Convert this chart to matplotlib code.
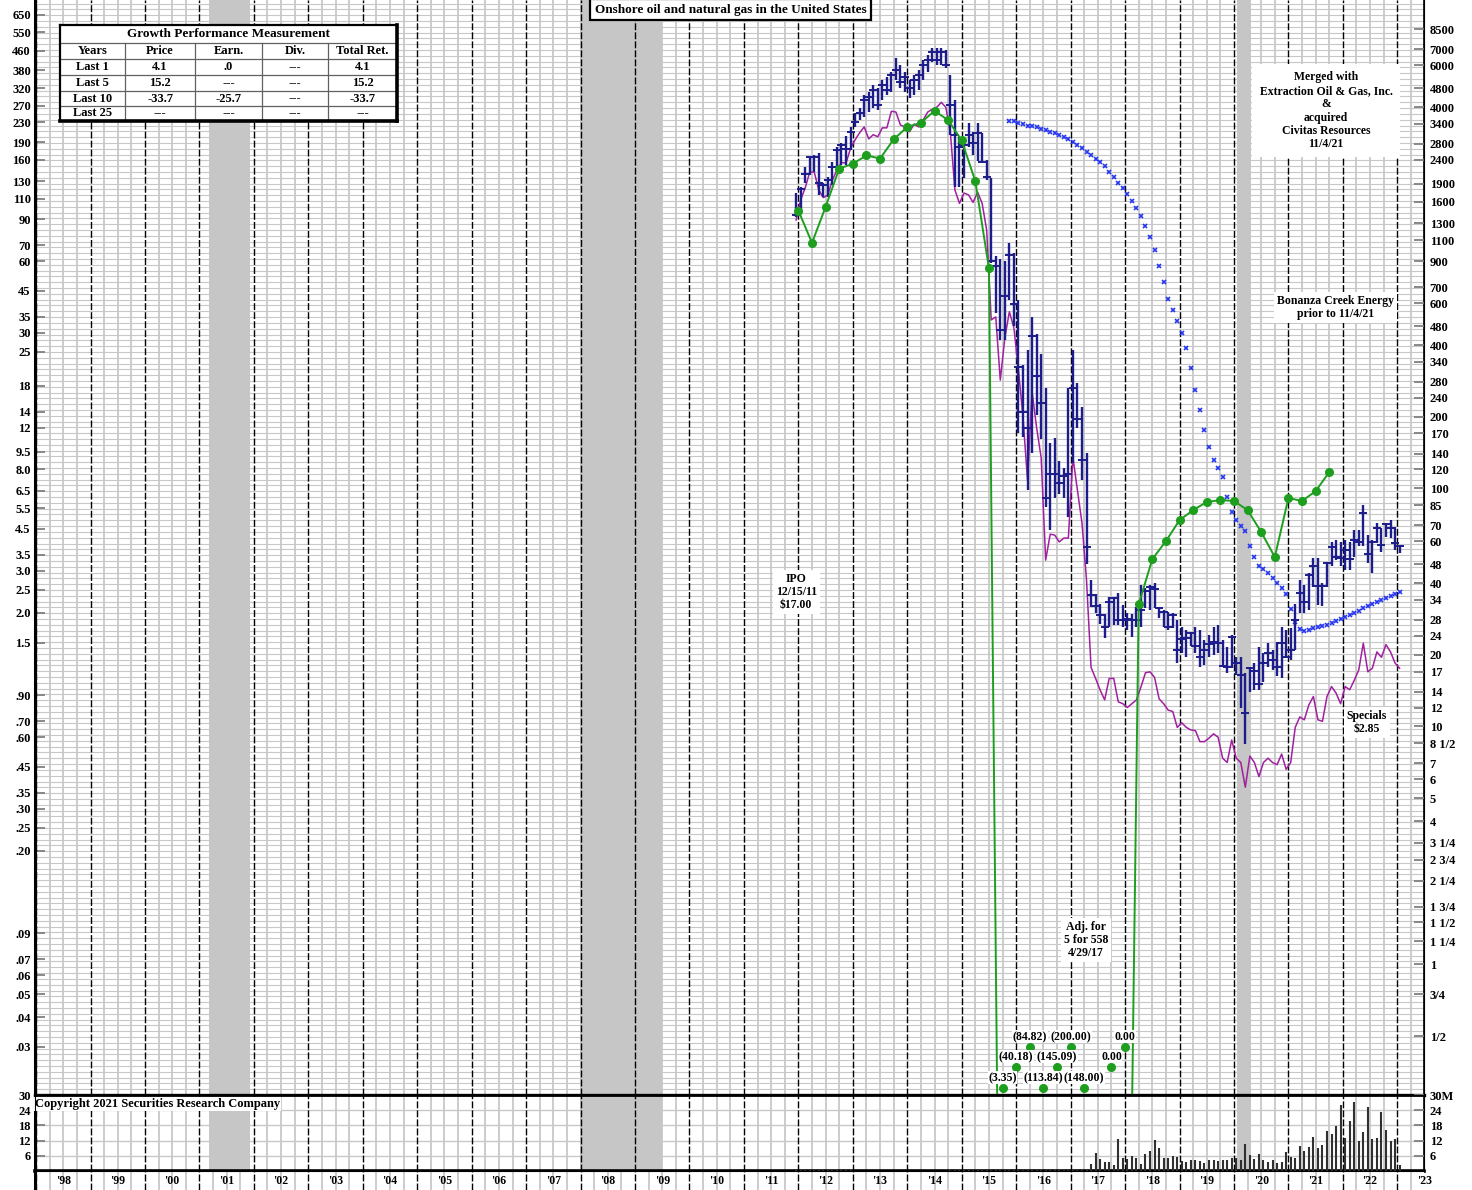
import numpy as np
import matplotlib
matplotlib.use("Agg")
import matplotlib.pyplot as plt
from matplotlib.ticker import NullLocator
from matplotlib.transforms import blended_transform_factory as blend

plt.rcParams['font.family'] = ['Liberation Serif', 'DejaVu Serif']
plt.rcParams['font.weight'] = 'bold'

# ------------------------------------------------------------------ data
first_month = 2011 + 11 / 12          # Dec 2011 (monthly series start)

price_high = [116,
    123, 149, 165, 167, 171, 128, 136, 156, 181, 189, 201, 219,
    252, 265, 300, 308, 330, 320, 347, 355, 374, 428, 400, 374,
    347, 364, 382, 420, 441, 470, 470, 470, 463, 364, 286, 200,
    189, 229, 210, 229, 208, 160, 134, 63, 61.5, 60, 71.8, 65,
    41.3, 22, 25.4, 35, 29.6, 24.4, 17.6, 10.3, 10.8, 8.7, 8.1, 17.6,
    25.4, 18.5, 14.6, 9.4, 2.74, 2.4, 2.17, 1.97, 2.33, 2.33, 2.42, 2.15,
    2.0, 1.97, 2.11, 2.62, 2.55, 2.62, 2.67, 2.11, 2.06, 2.02, 2.0, 1.87,
    1.74, 1.69, 1.66, 1.75, 1.69, 1.54, 1.61, 1.74, 1.78, 1.54, 1.44, 1.61,
    1.30, 1.30, 1.12, 1.18, 1.23, 1.44, 1.35, 1.49, 1.40, 1.51, 1.74, 1.69,
    1.72, 2.18, 2.75, 2.62, 2.95, 3.4, 3.4, 2.67, 3.27, 3.97, 4.04, 3.97,
    4.04, 3.97, 4.45, 4.45, 5.67, 4.24, 4.04, 4.77, 4.54, 4.77, 4.9, 4.6,
    3.85]
price_low = [92,
    98.5, 128, 138, 142, 114, 112, 112, 125, 149, 152, 152, 176,
    219, 235, 242, 255, 265, 260, 286, 300, 308, 347, 320, 308,
    291, 300, 315, 347, 374, 412, 400, 400, 390, 204, 123, 123,
    134, 181, 168, 158, 158, 132, 59, 36.4, 28, 28, 41.3, 32,
    11.4, 11, 6.56, 9.4, 13.6, 10.7, 5.57, 4.45, 6.1, 6.3, 6.1, 5.05,
    8.5, 12.0, 7.2, 3.2, 2.11, 2.0, 1.8, 1.56, 1.74, 1.78, 1.78, 1.74,
    1.69, 1.59, 1.74, 1.74, 2.09, 2.06, 2.09, 1.91, 1.74, 1.69, 1.72, 1.23,
    1.36, 1.31, 1.45, 1.35, 1.18, 1.21, 1.30, 1.33, 1.36, 1.18, 1.12, 1.17,
    1.10, 0.80, 0.56, 0.93, 0.95, 0.95, 1.02, 1.18, 1.15, 1.08, 1.06, 1.29,
    1.27, 1.40, 2.0, 2.0, 2.06, 2.57, 2.16, 2.14, 2.57, 3.14, 3.33, 3.14,
    3.03, 3.03, 3.43, 3.8, 3.82, 3.24, 2.94, 3.93, 3.6, 4.16, 4.12, 3.67,
    3.55]
price_close = [94,
    121, 139, 164, 165, 128, 125, 132, 149, 176, 185, 178, 210,
    231, 252, 286, 294, 315, 272, 330, 315, 364, 382, 340, 355,
    320, 347, 364, 400, 420, 455, 420, 455, 400, 272, 204, 181,
    185, 204, 189, 208, 156, 136, 60, 57.5, 30.7, 43, 64, 39.8,
    21.5, 14, 12, 29.2, 19.7, 15.2, 6.1, 7.66, 7.66, 7.0, 7.5, 7.66,
    17.6, 13.0, 8.8, 3.78, 2.37, 2.13, 1.95, 1.74, 2.22, 2.3, 1.87, 1.86,
    1.89, 1.87, 1.87, 2.06, 2.47, 2.56, 2.52, 2.09, 2.02, 1.74, 1.95, 1.39,
    1.55, 1.56, 1.64, 1.45, 1.30, 1.40, 1.48, 1.51, 1.49, 1.19, 1.18, 1.58,
    1.23, 1.10, 0.76, 1.17, 1.14, 1.0, 1.23, 1.36, 1.27, 1.18, 1.49, 1.30,
    1.40, 1.87, 2.42, 2.22, 2.88, 3.15, 2.6, 2.6, 3.24, 3.78, 3.43, 3.40,
    3.67, 3.37, 4.04, 3.97, 5.25, 3.53, 3.97, 4.54, 3.85, 4.73, 4.54, 3.93,
    3.82]
rel_line = [89.4,
    108.5, 122, 142, 142, 119.5, 111, 114, 131.6, 145, 156, 155, 179,
    194, 208, 220, 196, 204, 200, 218, 218, 256, 254, 224, 220,
    210, 226, 220, 235, 254, 261, 266, 279, 266, 208, 119.5, 105,
    116, 114, 106, 117, 105, 81, 34, 35, 19, 28.6, 36.8, 31.5,
    21, 13.3, 7.22, 17, 12, 9.0, 3.33, 4.28, 4.24, 3.97, 4.12, 4.12,
    9.0, 6.56, 4.77, 2.75, 1.18, 1.06, 0.948, 0.861, 1.06, 1.06, 0.845, 0.83,
    0.80, 0.83, 0.861, 0.976, 1.12, 1.13, 1.07, 0.87, 0.83, 0.78, 0.77, 0.66,
    0.69, 0.66, 0.644, 0.64, 0.575, 0.575, 0.595, 0.62, 0.60, 0.49, 0.47, 0.584,
    0.49, 0.47, 0.37, 0.50, 0.47, 0.41, 0.47, 0.49, 0.47, 0.46, 0.51, 0.44,
    0.47, 0.66, 0.73, 0.71, 0.82, 0.89, 0.71, 0.70, 0.89, 0.98, 0.92, 0.83,
    0.98, 0.95, 1.04, 1.15, 1.49, 1.13, 1.17, 1.37, 1.30, 1.47, 1.37, 1.23,
    1.17]
volume_m = [0.3,
    0.2, 0.2, 0.2, 0.2, 0.2, 0.2, 0.2, 0.2, 0.2, 0.2, 0.2, 0.2,
    0.15, 0.15, 0.15, 0.15, 0.15, 0.15, 0.15, 0.15, 0.15, 0.15, 0.15, 0.15,
    0.15, 0.15, 0.15, 0.15, 0.15, 0.15, 0.15, 0.15, 0.15, 0.2, 0.2, 0.2,
    0.2, 0.2, 0.2, 0.2, 0.2, 0.3, 0.6, 0.5, 0.6, 0.5, 0.5, 0.6,
    0.8, 0.7, 0.9, 0.7, 0.6, 0.6, 0.7, 0.6, 0.5, 0.5, 0.6, 0.8,
    0.9, 0.7, 0.6, 0.8, 2.6, 7.1, 4.9, 3.4, 3.7, 2.3, 12.7, 5.3,
    4.9, 5.9, 5.3, 2.8, 6.7, 7.9, 12.3, 9.0, 5.3, 5.3, 5.9, 5.6,
    4.1, 3.4, 4.5, 4.4, 3.9, 3.1, 4.5, 4.5, 4.1, 4.3, 4.3, 5.0,
    5.3, 4.5, 10.7, 6.5, 4.9, 6.7, 4.3, 3.4, 4.3, 3.2, 3.7, 7.6,
    5.6, 5.3, 9.8, 8.0, 9.3, 13.4, 9.0, 10.3, 15.8, 14.7, 17.7, 26.1,
    13.2, 19.6, 27.4, 11.9, 15.2, 25.4, 12.5, 12.9, 23.3, 16.3, 11.9, 12.5,
    2.3]

blue_start = 2015 + 10 / 12           # Nov 2015
blue_x_line = [232, 232,
    228, 226, 223, 221, 219, 216, 214, 210, 207, 204, 200, 195,
    191, 185, 179, 173, 168, 162, 156.5, 150.7, 142.8, 136, 128.3, 121.5,
    114.8, 107.5, 100.4, 92.8, 84.4, 76.1, 66.9, 57.5, 49.1, 41.5, 37.3, 33.8,
    29.9, 25.8, 21.4, 17.3, 14.2, 11.7, 9.95, 8.76, 8.1, 7.43, 6.13, 5.3,
    4.9, 4.63, 4.41, 3.81, 3.43, 3.14, 3.05, 2.94, 2.80, 2.67, 2.54, 2.40,
    2.08, 1.83, 1.71, 1.68, 1.69, 1.73, 1.74, 1.76, 1.78, 1.81, 1.85, 1.89,
    1.92, 1.96, 2.0, 2.04, 2.10, 2.14, 2.18, 2.22, 2.26, 2.31, 2.35, 2.40,
    2.45]

earn_start = 2012.0                   # quarterly
earn_line = [98, 71.6, 101.5, 147, 154, 167, 162, 195, 220, 229, 257, 235,
             193, 130, 56, None, None, None, None, None, None, None, None, None,
             None, 2.17, 3.36, 4.0, 4.9, 5.4, 5.84, 5.95, 5.9, 5.4, 4.37, 3.43,
             6.07, 5.9, 6.49, 7.8]
below_start = 2015.75
below_eps = [-3.35, -40.18, -84.82, -113.84, -145.09, -200.00, -148.00, None, 0.00, 0.00]

recessions = [(2001.18, 2001.93), (2007.99, 2009.50), (2020.06, 2020.31)]

left_ticks = [650, 550, 460, 380, 320, 270, 230, 190, 160, 130, 110, 90, 70, 60, 45,
              35, 30, 25, 18, 14, 12, 9.5, 8.0, 6.5, 5.5, 4.5, 3.5, 3.0, 2.5, 2.0, 1.5,
              .90, .70, .60, .45, .35, .30, .25, .20, .09, .07, .06, .05, .04, .03]
left_labels = ['650', '550', '460', '380', '320', '270', '230', '190', '160', '130', '110',
               '90', '70', '60', '45', '35', '30', '25', '18', '14', '12', '9.5', '8.0',
               '6.5', '5.5', '4.5', '3.5', '3.0', '2.5', '2.0', '1.5', '.90', '.70', '.60',
               '.45', '.35', '.30', '.25', '.20', '.09', '.07', '.06', '.05', '.04', '.03']
right_ticks = [8500, 7000, 6000, 4800, 4000, 3400, 2800, 2400, 1900, 1600, 1300, 1100,
               900, 700, 600, 480, 400, 340, 280, 240, 200, 170, 140, 120, 100, 85, 70,
               60, 48, 40, 34, 28, 24, 20, 17, 14, 12, 10, 8.5, 7, 6, 5, 4, 3.25, 2.75,
               2.25, 1.75, 1.5, 1.25, 1, 0.75, 0.5]
right_labels = ['8500', '7000', '6000', '4800', '4000', '3400', '2800', '2400', '1900',
                '1600', '1300', '1100', '900', '700', '600', '480', '400', '340', '280',
                '240', '200', '170', '140', '120', '100', '85', '70', '60', '48', '40',
                '34', '28', '24', '20', '17', '14', '12', '10', '8 1/2', '7', '6', '5',
                '4', '3 1/4', '2 3/4', '2 1/4', '1 3/4', '1 1/2', '1 1/4', '1', '3/4', '1/2']
scale_ratio = 15
vol_ticks = [30, 24, 18, 12, 6]
years = list(range(1998, 2024))

table_rows = ['Last 1', 'Last 5', 'Last 10', 'Last 25']
table_price = ['4.1', '15.2', '-33.7', '---']
table_earn = ['.0', '---', '-25.7', '---']
table_div = ['---', '---', '---', '---']
table_total = ['4.1', '15.2', '-33.7', '---']

# ------------------------------------------------------------------ layout
W, H = 1472, 1190
fig = plt.figure(figsize=(W / 100, H / 100), dpi=100)
L, R = 35, 1424
TOP, MAIN_B, VOL_B = 0, 1095, 1171
ax = fig.add_axes([L / W, 1 - MAIN_B / H, (R - L) / W, (MAIN_B - TOP) / H])
axv = fig.add_axes([L / W, 1 - VOL_B / H, (R - L) / W, (VOL_B - MAIN_B) / H])
axl = fig.add_axes([L / W, 0, (R - L) / W, (H - VOL_B) / H])

XMIN, XMAX = 1997.98, 2023.49
YMIN, YMAX = 0.01884, 751
GRID = '#c8c8c8'

for a in (ax, axv, axl):
    a.set_xlim(XMIN, XMAX)
    a.set_xticks([])
    for yv in years:
        a.axvline(yv, color='black', lw=1.0, ls=(0, (5, 1.5)), zorder=2)
    for yv in years:
        for q in (0.25, 0.5, 0.75):
            a.axvline(yv + q, color=GRID, lw=1.3, zorder=0.5)
for a in (ax, axv):
    for s, e in recessions:
        a.axvspan(s, e, color='#c6c6c6', lw=0, zorder=1)

# main price panel
ax.set_yscale('log')
ax.set_ylim(YMIN, YMAX)
for gv in 10 ** np.arange(np.log10(YMIN), np.log10(YMAX), 1 / 41):
    ax.axhline(gv, color=GRID, lw=0.8, zorder=0.4)
ax.set_yticks(left_ticks)
ax.set_yticklabels(left_labels)
ax.yaxis.set_minor_locator(NullLocator())
ax.tick_params(axis='y', direction='in', length=7, width=1.3, color='#808080',
               labelsize=9, pad=3)
for s in ('top',):
    ax.spines[s].set_visible(False)
ax.spines['left'].set_linewidth(2.2)
ax.spines['bottom'].set_linewidth(2.4)
ax.spines['right'].set_linewidth(1.2)

axr = ax.twinx()
axr.set_yscale('log')
axr.set_ylim(YMIN * scale_ratio, YMAX * scale_ratio)
axr.set_yticks(right_ticks)
axr.set_yticklabels(right_labels)
axr.yaxis.set_minor_locator(NullLocator())
axr.tick_params(axis='y', direction='in', length=7, width=1.3, color='#808080',
                labelsize=9, pad=4)
axr.spines['top'].set_visible(False)
axr.set_xlim(XMIN, XMAX)

n = len(price_high)
mx = first_month + (np.arange(n) + 0.5) / 12
ph, pl, pc = map(np.array, (price_high, price_low, price_close))
ax.vlines(mx, pl, ph, color='#1c1c8c', lw=1.7, zorder=5)
ax.plot(mx, pc, ls='none', marker='_', ms=5.5, mew=1.4, color='#1c1c8c', zorder=5)

ax.plot(mx, rel_line, color='#a020a0', lw=1.1, zorder=4)

bx = blue_start + (np.arange(len(blue_x_line)) + 0.5) / 12
ax.plot(bx, blue_x_line, ls='none', marker='x', ms=3.5, mew=1.2, color='#2636f0', zorder=4)

# earnings line (below-scale quarters drawn heading off the bottom)
eq = earn_start + np.arange(len(earn_line)) * 0.25
below_q = below_start + np.arange(len(below_eps)) * 0.25
off_scale = 1e-4
ev = []
for q, v in zip(eq, earn_line):
    if v is not None:
        ev.append(v)
    else:
        k = int(round((q - below_start) / 0.25))
        ev.append(off_scale if 0 <= k < len(below_eps) and below_eps[k] is not None else np.nan)
ax.plot(eq, ev, color='#1e9e1e', lw=1.4, zorder=6)
ax.plot(eq, [v if v is not None else np.nan for v in earn_line], ls='none', marker='o',
        ms=5.5, color='#1e9e1e', zorder=6)

bt = blend(ax.transData, ax.transAxes)
levels = [0.0064, 0.0256, 0.0438]
cnt = 0
for q, e in zip(below_q, below_eps):
    if e is None:
        continue
    yl = levels[cnt % 3]
    cnt += 1
    ax.plot(q, yl, 'o', ms=5.5, color='#1e9e1e', transform=bt, zorder=7, clip_on=False)
    lab = '({:.2f})'.format(-e) if e < 0 else '{:.2f}'.format(e)
    ax.annotate(lab, (q, yl), xycoords=bt, xytext=(0, 3), textcoords='offset points',
                ha='center', va='bottom', fontsize=8.5, zorder=8,
                bbox=dict(boxstyle='square,pad=0.05', fc='white', ec='none'))

# annotations
wb = dict(boxstyle='square,pad=0.25', fc='white', ec='none')
ax.text(2010.76, 0.991, 'Onshore oil and natural gas in the United States',
        transform=blend(ax.transData, ax.transAxes), ha='center', va='center',
        fontsize=9.5, zorder=10,
        bbox=dict(boxstyle='square,pad=0.35', fc='white', ec='black', lw=1.6))
ax.text(2011.96, 2.45, 'IPO\n12/15/11\n$17.00', ha='center', va='center',
        fontsize=8.5, zorder=10, bbox=wb, linespacing=1.1)
ax.text(2021.69, 257, 'Merged with\nExtraction Oil & Gas, Inc.\n&\nacquired\nCivitas Resources\n11/4/21',
        ha='center', va='center', fontsize=8.5, zorder=10, linespacing=1.15,
        bbox=dict(boxstyle='square,pad=0.6', fc='white', ec='none'))
ax.text(2021.86, 38.2, 'Bonanza Creek Energy\nprior to 11/4/21', ha='center', va='center',
        fontsize=8.5, zorder=10, bbox=wb, linespacing=1.1)
ax.text(2022.44, 0.69, 'Specials\n$2.85', ha='center', va='center', fontsize=8.5,
        zorder=10, bbox=wb, linespacing=1.1)
ax.text(2017.28, 0.0842, 'Adj. for\n5 for 558\n4/29/17', ha='center', va='center',
        fontsize=8.5, zorder=10, bbox=wb, linespacing=1.1)

# volume panel
axv.set_ylim(0, 30)
for gv in vol_ticks[1:]:
    axv.axhline(gv, color=GRID, lw=1.0, zorder=0.4)
axv.vlines(mx, 0, volume_m, color='#303030', lw=1.5, zorder=5)
axv.set_yticks(vol_ticks)
axv.set_yticklabels([str(v) for v in vol_ticks])
axv.tick_params(axis='y', direction='in', length=7, width=1.3, color='#808080',
                labelsize=9, pad=3)
axv.spines['top'].set_linewidth(2.0)
axv.spines['left'].set_linewidth(2.2)
axv.spines['bottom'].set_linewidth(2.6)
axv.spines['right'].set_linewidth(1.2)
axvr = axv.twinx()
axvr.set_ylim(0, 30)
axvr.set_yticks(vol_ticks)
axvr.set_yticklabels(['30M'] + [str(v) for v in vol_ticks[1:]])
axvr.tick_params(axis='y', direction='in', length=7, width=1.3, color='#808080',
                 labelsize=9, pad=4)
axv.text(0.0, 0.88, 'Copyright 2021 Securities Research Company', transform=axv.transAxes,
         ha='left', va='center', fontsize=9, zorder=10,
         bbox=dict(boxstyle='square,pad=0.1', fc='white', ec='none'))

# year label band
axl.set_ylim(0, 1)
axl.set_yticks([])
for s in ('top', 'right'):
    axl.spines[s].set_visible(False)
axl.spines['left'].set_linewidth(2.2)
axl.spines['bottom'].set_visible(False)
for yv in years:
    axl.text(yv + 0.5, 0.45, "'" + str(yv)[2:], ha='center', va='center', fontsize=8.5,
             clip_on=False)

# growth performance table
tx = fig.add_axes([60 / W, 1 - 121 / H, 337 / W, 96 / H])
tx.set_xlim(0, 337)
tx.set_ylim(96, 0)
tx.set_xticks([])
tx.set_yticks([])
tx.patch.set_facecolor('white')
tx.set_zorder(20)
for s in tx.spines.values():
    s.set_linewidth(1.6)
tx.spines['right'].set_linewidth(2.6)
tx.spines['bottom'].set_linewidth(2.6)
row_y = [0, 18, 34, 50, 66, 81, 96]
col_x = [0, 65, 135, 202, 268, 337]
for yv in row_y[1:-1]:
    tx.plot([0, 337], [yv, yv], color='#606060', lw=0.9)
for xv in col_x[1:-1]:
    tx.plot([xv, xv], [18, 96], color='#606060', lw=0.9)
tx.text(168.5, 9, 'Growth Performance Measurement', ha='center', va='center', fontsize=9.5)
heads = ['Years', 'Price', 'Earn.', 'Div.', 'Total Ret.']
cols = [table_rows, table_price, table_earn, table_div, table_total]
for j in range(5):
    cx = (col_x[j] + col_x[j + 1]) / 2
    tx.text(cx, 26, heads[j], ha='center', va='center', fontsize=9)
    for i in range(4):
        tx.text(cx, (row_y[i + 2] + row_y[i + 3]) / 2, cols[j][i], ha='center',
                va='center', fontsize=9)

fig.savefig('out.png', dpi=100)
